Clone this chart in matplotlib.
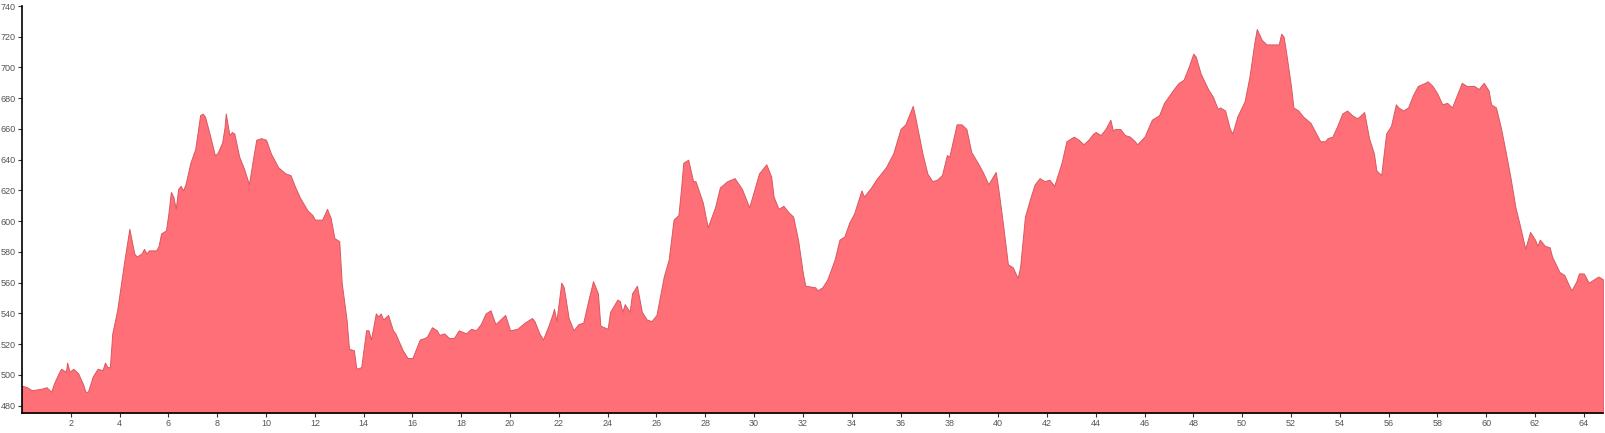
import matplotlib
matplotlib.use("Agg")
import matplotlib.pyplot as plt

distance_km = [
    0.0, 0.2, 0.4, 0.8, 1.0, 1.2, 1.3, 1.5, 1.6, 1.8, 1.85, 1.95, 2.1, 2.3, 2.5, 2.6, 2.7, 2.9,
    3.1, 3.3, 3.4, 3.5, 3.6, 3.7, 3.9, 4.0, 4.2, 4.4, 4.6, 4.7, 4.9, 5.0, 5.1, 5.2, 5.5, 5.6,
    5.7, 5.9, 6.0, 6.1, 6.2, 6.3, 6.4, 6.5, 6.6, 6.7, 6.9, 7.1, 7.3, 7.4, 7.5, 7.7, 7.9, 8.0,
    8.2, 8.3, 8.35, 8.5, 8.6, 8.7, 8.9, 9.1, 9.3, 9.45, 9.6, 9.8, 10.0, 10.2, 10.5, 10.8, 11.0,
    11.2, 11.4, 11.7, 11.9, 12.0, 12.3, 12.5, 12.65, 12.8, 13.0, 13.1, 13.3, 13.4, 13.6, 13.7,
    13.9, 14.1, 14.2, 14.3, 14.5, 14.6, 14.7, 14.8, 15.0, 15.2, 15.3, 15.6, 15.8, 16.0, 16.3,
    16.5, 16.6, 16.8, 17.0, 17.1, 17.3, 17.5, 17.7, 17.9, 18.2, 18.4, 18.6, 18.8, 19.0, 19.2,
    19.4, 19.6, 19.8, 20.0, 20.3, 20.6, 20.9, 21.0, 21.2, 21.35, 21.6, 21.75, 21.8, 21.9, 22.1,
    22.2, 22.4, 22.6, 22.8, 23.0, 23.2, 23.4, 23.6, 23.7, 24.0, 24.1, 24.4, 24.5, 24.6, 24.7,
    24.9, 25.0, 25.2, 25.4, 25.6, 25.8, 26.0, 26.3, 26.5, 26.7, 26.9, 27.0, 27.1, 27.3, 27.5,
    27.6, 27.9, 28.1, 28.4, 28.6, 28.9, 29.2, 29.5, 29.8, 30.0, 30.2, 30.5, 30.7, 30.8, 31.0,
    31.2, 31.4, 31.6, 31.8, 32.0, 32.1, 32.5, 32.6, 32.8, 33.0, 33.3, 33.5, 33.7, 33.9, 34.1,
    34.4, 34.5, 34.8, 35.0, 35.3, 35.4, 35.7, 36.0, 36.2, 36.5, 36.6, 36.9, 37.1, 37.3, 37.5,
    37.7, 37.9, 38.0, 38.3, 38.5, 38.7, 38.9, 39.2, 39.4, 39.6, 39.9, 40.0, 40.2, 40.4, 40.6,
    40.8, 40.9, 41.1, 41.3, 41.5, 41.7, 41.9, 42.1, 42.3, 42.6, 42.8, 43.1, 43.3, 43.5, 43.7,
    43.9, 44.0, 44.2, 44.4, 44.6, 44.7, 44.8, 45.0, 45.2, 45.4, 45.6, 45.7, 46.0, 46.3, 46.6,
    46.8, 47.2, 47.4, 47.6, 47.8, 48.0, 48.1, 48.3, 48.6, 48.8, 49.0, 49.1, 49.3, 49.5, 49.6,
    49.8, 50.1, 50.3, 50.5, 50.6, 50.8, 51.0, 51.3, 51.5, 51.6, 51.7, 51.8, 52.0, 52.1, 52.3,
    52.5, 52.8, 53.0, 53.2, 53.4, 53.5, 53.7, 53.9, 54.1, 54.3, 54.5, 54.7, 54.8, 55.0, 55.2,
    55.4, 55.5, 55.7, 55.9, 56.1, 56.3, 56.4, 56.6, 56.8, 57.0, 57.2, 57.5, 57.6, 57.8, 58.0,
    58.2, 58.4, 58.6, 58.8, 59.0, 59.2, 59.5, 59.7, 59.9, 60.1, 60.2, 60.4, 60.6, 60.8, 61.0,
    61.2, 61.4, 61.6, 61.8, 62.0, 62.1, 62.2, 62.4, 62.6, 62.7, 63.0, 63.2, 63.4, 63.5, 63.7,
    63.8, 64.0, 64.2, 64.4, 64.6, 64.8,
]

elevation_m = [
    493, 492, 490, 491, 492, 489, 494, 501, 504, 502, 508, 502, 504, 501, 494, 489, 489, 499,
    504, 503, 508, 505, 505, 527, 542, 553, 575, 595, 579, 577, 579, 582, 579, 581, 581, 584,
    592, 594, 605, 619, 616, 608, 621, 623, 620, 624, 638, 647, 669, 670, 668, 656, 643, 644,
    651, 661, 670, 656, 658, 657, 642, 634, 624, 639, 653, 654, 653, 644, 635, 631, 630,
    622, 615, 607, 604, 601, 601, 608, 602, 589, 587, 560, 536, 517, 516, 504,
    505, 529, 529, 523, 540, 538, 540, 536, 539, 529, 527, 516, 511, 511, 523,
    524, 525, 531, 529, 526, 527, 524, 524, 529, 527, 530, 529, 533, 540, 542,
    533, 536, 539, 529, 530, 534, 537, 535, 527, 523, 533, 540, 543, 535, 560,
    557, 537, 529, 533, 534, 548, 561, 553, 532, 530, 541, 549, 548, 541, 546,
    541, 553, 558, 541, 536, 535, 539, 564, 575, 601, 604, 620, 638, 640, 626,
    626, 612, 596, 609, 622, 626, 628, 621, 609, 620, 631, 637, 629, 616, 608,
    610, 606, 603, 588, 566, 558, 557, 555, 557, 562, 575, 588, 590, 599, 605,
    620, 616, 622, 627, 633, 635, 644, 660, 663, 675, 668, 644, 631, 626, 627,
    630, 643, 642, 663, 663, 660, 645, 637, 631, 624, 632, 622, 598, 572, 570,
    563, 570, 603, 614, 624, 628, 626, 627, 623, 638, 652, 655, 653, 650, 653,
    657, 658, 656, 660, 666, 659, 660, 660, 656, 655, 652, 650, 655, 666, 669,
    677, 686, 690, 692, 700, 709, 707, 696, 686, 681, 673, 674, 672, 660, 657,
    668, 678, 694, 716, 725, 718, 715, 715, 715, 722, 720, 710, 688, 674, 672,
    668, 664, 658, 652, 652, 654, 655, 662, 670, 672, 669, 667, 668, 671, 654,
    644, 633, 630, 657, 662, 676, 674, 672, 674, 682, 688, 690, 691, 688, 683,
    676, 677, 674, 682, 690, 688, 688, 686, 690, 685, 676, 674, 661, 645, 628,
    609, 596, 582, 593, 588, 584, 588, 584, 583, 577, 567, 565, 558, 555, 561,
    566, 566, 560, 562, 564, 562,
]

y_ticks = list(range(480, 741, 20))
x_ticks = list(range(2, 65, 2))

plt.rcParams['font.family'] = ['Liberation Sans', 'DejaVu Sans']

fig = plt.figure(figsize=(16.06, 4.33), dpi=100)
ax = fig.add_axes([22 / 1606, 20 / 433, (1603.3 - 22) / 1606, (413 - 6) / 433])

ax.fill_between(distance_km, elevation_m, 470, facecolor='#ff6f77',
                edgecolor='#d85860', linewidth=0.7, zorder=2)

ax.set_xlim(0, 64.8)
ax.set_ylim(475.2, 740)
ax.set_xticks(x_ticks)
ax.set_yticks(y_ticks)
ax.set_xticklabels([str(t) for t in x_ticks])
ax.set_yticklabels([str(t) for t in y_ticks])

for s in ('top', 'right'):
    ax.spines[s].set_visible(False)
for s in ('left', 'bottom'):
    ax.spines[s].set_color('black')
    ax.spines[s].set_linewidth(1.2)
    ax.spines[s].set_zorder(3)

ax.tick_params(axis='both', direction='out', length=3, width=0.8, color='#333333',
               labelsize=6.5, labelcolor='#555555', pad=1.5)

fig.savefig('out.png', dpi=100, facecolor='white')
